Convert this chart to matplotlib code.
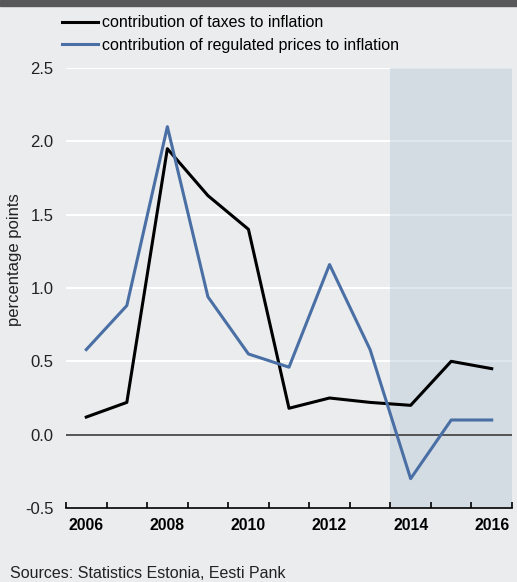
import matplotlib.pyplot as plt
from matplotlib.patches import Rectangle

years = [2006, 2007, 2008, 2009, 2010, 2011, 2012, 2013, 2014, 2015, 2016]
taxes = [0.12, 0.22, 1.95, 1.63, 1.40, 0.18, 0.25, 0.22, 0.20, 0.50, 0.45]
regulated = [0.58, 0.88, 2.10, 0.94, 0.55, 0.46, 1.16, 0.58, -0.30, 0.10, 0.10]
label_years = [2006, 2008, 2010, 2012, 2014, 2016]
forecast_start = 2013.5

plt.rcParams['font.family'] = ['Liberation Sans', 'DejaVu Sans']

bg = '#ebeced'
fig = plt.figure(figsize=(5.17, 5.82), dpi=100, facecolor=bg)
fig.patches.append(Rectangle((0, 1 - 6 / 582), 1, 6 / 582, transform=fig.transFigure,
                             color='#58585a', zorder=0))

ax = fig.add_axes([66 / 517, 74 / 582, 446 / 517, 440 / 582])
ax.set_facecolor(bg)

ax.axvspan(forecast_start, years[-1] + 0.5, color='#afc4d6', alpha=0.4, lw=0, zorder=1)
for v in [0.5, 1.0, 1.5, 2.0, 2.5]:
    ax.axhline(v, color='white', lw=1.5, zorder=0.5)
ax.axhline(0, color='#3c3c3c', lw=1.2, zorder=2)

ax.plot(years, taxes, color='black', lw=2.2, label='contribution of taxes to inflation', zorder=3)
ax.plot(years, regulated, color='#4a6fa5', lw=2.2,
        label='contribution of regulated prices to inflation', zorder=3)

ax.set_xlim(years[0] - 0.5, years[-1] + 0.5)
ax.set_ylim(-0.5, 2.5)
ax.set_yticks([-0.5, 0.0, 0.5, 1.0, 1.5, 2.0, 2.5])
ax.set_yticklabels(['-0.5', '0.0', '0.5', '1.0', '1.5', '2.0', '2.5'], fontsize=12, color='#222222')
ax.set_xticks(label_years)
ax.set_xticklabels([str(y) for y in label_years], fontsize=11.3, fontweight='bold')
ax.set_xticks([y + 0.5 for y in [years[0] - 1] + years], minor=True)
ax.tick_params(axis='x', which='major', length=0, pad=7)
ax.tick_params(axis='x', which='minor', direction='in', length=4, width=1.2)
ax.tick_params(axis='y', length=0, pad=9)

for s in ['top', 'right', 'left']:
    ax.spines[s].set_visible(False)
ax.spines['bottom'].set_linewidth(1.2)

fig.text(15 / 517, 1 - 260 / 582, 'percentage points', rotation=90, fontsize=12,
         color='#222222', ha='center', va='center')

fig.legend(loc='upper left', bbox_to_anchor=(48 / 517, 1 - 1 / 582), frameon=False,
           fontsize=11.5, handlelength=2.2, handletextpad=0.3, labelspacing=0.45)

fig.text(10 / 517, 1 - 574 / 582, 'Sources: Statistics Estonia, Eesti Pank', fontsize=11.5,
         color='#222222', va='center')

fig.savefig('out.png', dpi=100, facecolor=bg)
